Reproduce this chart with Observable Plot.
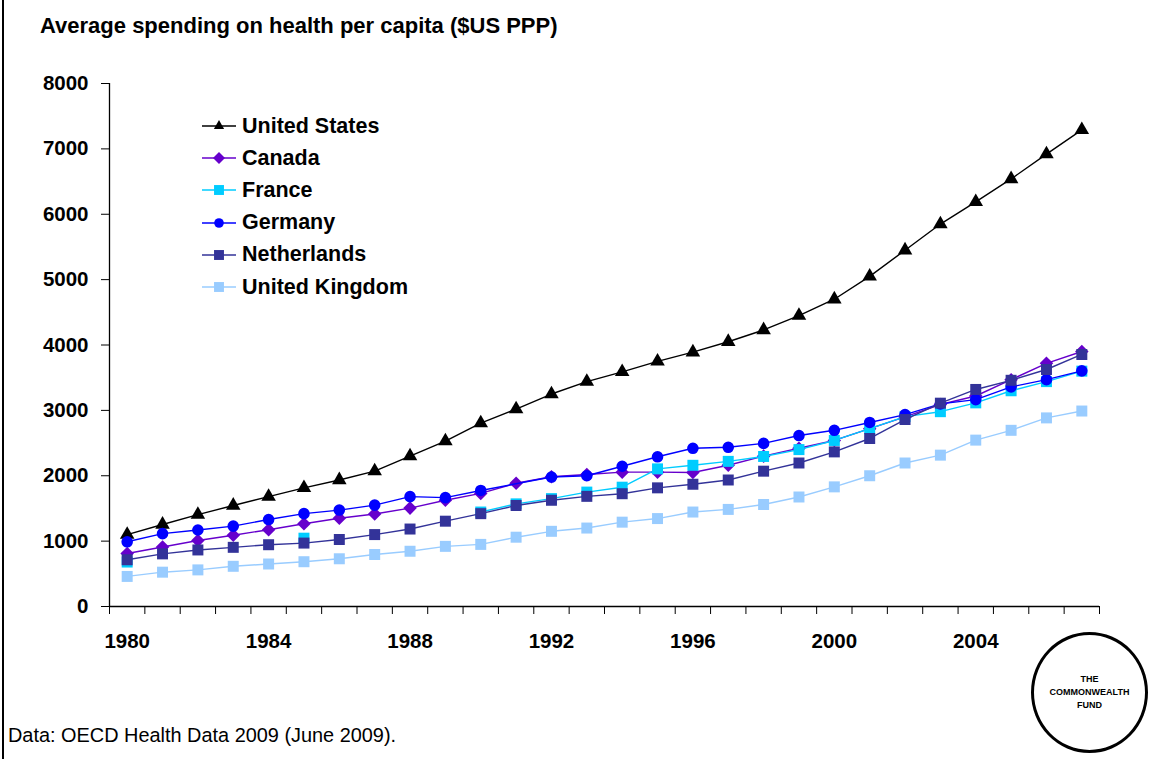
<!DOCTYPE html>
<html>
<head>
<meta charset="utf-8">
<script src="https://cdn.jsdelivr.net/npm/d3@7"></script>
<script src="https://cdn.jsdelivr.net/npm/@observablehq/plot@0.6"></script>
<style>
  html, body { margin: 0; padding: 0; background: #fff; }
  body { font-family: "Liberation Sans", Arial, sans-serif; }
  #wrap { position: relative; width: 1151px; height: 759px; overflow: hidden; background: #fff; }
  #chart { position: absolute; left: 0; top: 0; }
  .title { position: absolute; left: 40px; top: 15px; font-size: 22px; font-weight: bold; line-height: 1; white-space: nowrap; color: #000; }
  .legend-row { position: absolute; left: 202px; height: 32px; display: flex; align-items: center; font-size: 21.5px; font-weight: bold; white-space: nowrap; color: #000; }
  .legend-row svg { margin-right: 6px; }
  .footer { position: absolute; left: 8px; top: 726px; font-size: 19.9px; line-height: 1; white-space: nowrap; color: #000; }
  .border { position: absolute; left: 2px; top: 0; width: 2px; height: 759px; background: #000; }
  .logo { position: absolute; left: 1031px; top: 632px; width: 117px; height: 121px; border: 3px solid #000; border-radius: 50%; box-sizing: border-box; display: flex; flex-direction: column; align-items: center; justify-content: center; font-size: 9px; font-weight: bold; line-height: 12.8px; text-align: center; color: #000; }
</style>
</head>
<body>
<div id="wrap">
  <div class="border"></div>
  <div id="chart"></div>
  <div class="title">Average spending on health per capita ($US PPP)</div>
  <div class="footer">Data: OECD Health Data 2009 (June 2009).</div>
  <div class="logo"><div>THE</div><div>COMMONWEALTH</div><div>FUND</div></div>
</div>
<script>
// ---- data ----
const years = [1980, 1981, 1982, 1983, 1984, 1985, 1986, 1987, 1988, 1989,
               1990, 1991, 1992, 1993, 1994, 1995, 1996, 1997, 1998, 1999,
               2000, 2001, 2002, 2003, 2004, 2005, 2006, 2007];
const xTickLabels = [1980, 1984, 1988, 1992, 1996, 2000, 2004];
const yTicks = [0, 1000, 2000, 3000, 4000, 5000, 6000, 7000, 8000];

// null = empty (line breaks), NaN = not available (line bridges, no marker)
const unitedStates = [1100, 1255, 1405, 1545, 1680, 1815, 1935, 2070, 2300, 2530,
                      2805, 3020, 3250, 3440, 3590, 3750, 3890, 4050, 4230, 4450,
                      4700, 5050, 5450, 5850, 6190, 6540, 6920, 7290];
const canada = [810, 910, 1010, 1090, 1175, 1265, 1350, 1415, 1505, 1625,
                1730, 1885, 1985, 2020, 2055, 2055, 2050, 2160, 2300, 2420,
                2540, 2720, 2900, 3090, 3220, 3470, 3720, 3900];
const france = [680, null, null, null, null, 1045, null, null, null, null,
                1445, 1570, 1650, 1750, 1825, 2105, 2160, 2220, 2295, 2400,
                2540, 2720, 2905, 2980, 3115, 3300, 3440, 3600];
const germany = [990, 1115, 1170, 1230, 1330, 1420, 1475, 1550, 1680, 1665,
                 1775, NaN, 1980, 2000, 2145, 2290, 2420, 2435, 2495, 2615,
                 2695, 2815, 2935, 3100, 3165, 3360, 3470, 3605];
const netherlands = [715, 805, 865, 905, 945, 970, 1025, 1100, 1185, 1305,
                     1420, 1545, 1625, 1685, 1725, 1815, 1870, 1935, 2070, 2195,
                     2365, 2570, 2860, 3110, 3320, 3460, 3625, 3855];
const unitedKingdom = [460, 525, 560, 615, 650, 685, 730, 795, 845, 920,
                       950, 1060, 1150, 1200, 1290, 1345, 1445, 1485, 1560, 1675,
                       1830, 2000, 2195, 2315, 2545, 2695, 2885, 2990];

const countryNames = ["United States", "Canada", "France", "Germany", "Netherlands", "United Kingdom"];
const countryValues = [unitedStates, canada, france, germany, netherlands, unitedKingdom];

// ---- styles ----
const colors = ["#000000", "#6600CC", "#00CCFF", "#0000FF", "#333399", "#99CCFF"];
const symbols = ["triangle", "diamond2", "square", "circle", "square", "square"];
const d3Symbols = [d3.symbolTriangle, d3.symbolDiamond2, d3.symbolSquare, d3.symbolCircle, d3.symbolSquare, d3.symbolSquare];
const radii = [5.4, 6.1, 6.2, 5.8, 6.2, 6.2];
const legendRadii = [3.8, 5.4, 5.6, 4.8, 5.6, 5.6];

// ---- build ----
const series = countryNames.map((name, k) => ({
  name,
  rows: years.map((year, i) => ({country: name, year, value: countryValues[k][i]}))
}));

const xDomain = [years[0] - 0.5, years[years.length - 1] + 0.5];
const boundaries = [...years.map(y => y - 0.5), years[years.length - 1] + 0.5];

const W = 1151, H = 759;
const marks = [
  Plot.ruleY([0], {stroke: "#000", strokeWidth: 1.3}),
  Plot.ruleX([xDomain[0]], {stroke: "#000", strokeWidth: 1.3}),
  Plot.axisY({ticks: yTicks, tickSize: 8, tickPadding: 13, tickFormat: d => String(d), label: null}),
  Plot.axisX({ticks: boundaries, tickSize: 8, tickFormat: () => "", label: null}),
  Plot.axisX({ticks: xTickLabels, tickSize: 0, tickPadding: 27, tickFormat: d => String(d), label: null})
];
series.forEach((s, k) => {
  const lineRows = s.rows.filter(d => !(typeof d.value === "number" && isNaN(d.value)));
  const dotRows = s.rows.filter(d => d.value != null && !isNaN(d.value));
  marks.push(Plot.line(lineRows, {x: "year", y: "value", stroke: colors[k], strokeWidth: 1.4}));
  marks.push(Plot.dot(dotRows, {x: "year", y: "value", fill: colors[k], symbol: () => symbols[k], r: radii[k], stroke: "none"}));
});

const chart = Plot.plot({
  width: W,
  height: H,
  marginLeft: 109,
  marginRight: 52,
  marginTop: 83,
  marginBottom: H - 606,
  x: {type: "linear", domain: xDomain},
  y: {type: "linear", domain: [0, 8000]},
  symbol: {type: "identity"},
  style: {fontFamily: "'Liberation Sans', Arial, sans-serif", fontSize: "20.5px", fontWeight: "bold", background: "transparent", color: "#000"},
  marks
});
document.getElementById("chart").appendChild(chart);

// ---- legend ----
const wrap = document.getElementById("wrap");
const legendTop = 126, legendStep = 32.2;
countryNames.forEach((name, k) => {
  const row = document.createElement("div");
  row.className = "legend-row";
  row.style.top = (legendTop + k * legendStep - 16) + "px";
  const svg = d3.create("svg").attr("width", 34).attr("height", 16);
  svg.append("line").attr("x1", 0).attr("x2", 34).attr("y1", 8).attr("y2", 8)
     .attr("stroke", colors[k]).attr("stroke-width", 1.4);
  svg.append("path")
     .attr("d", d3.symbol().type(d3Symbols[k]).size(Math.PI * legendRadii[k] ** 2)())
     .attr("transform", "translate(17,8)")
     .attr("fill", colors[k]);
  row.appendChild(svg.node());
  const span = document.createElement("span");
  span.textContent = name;
  row.appendChild(span);
  wrap.appendChild(row);
});
</script>
</body>
</html>
